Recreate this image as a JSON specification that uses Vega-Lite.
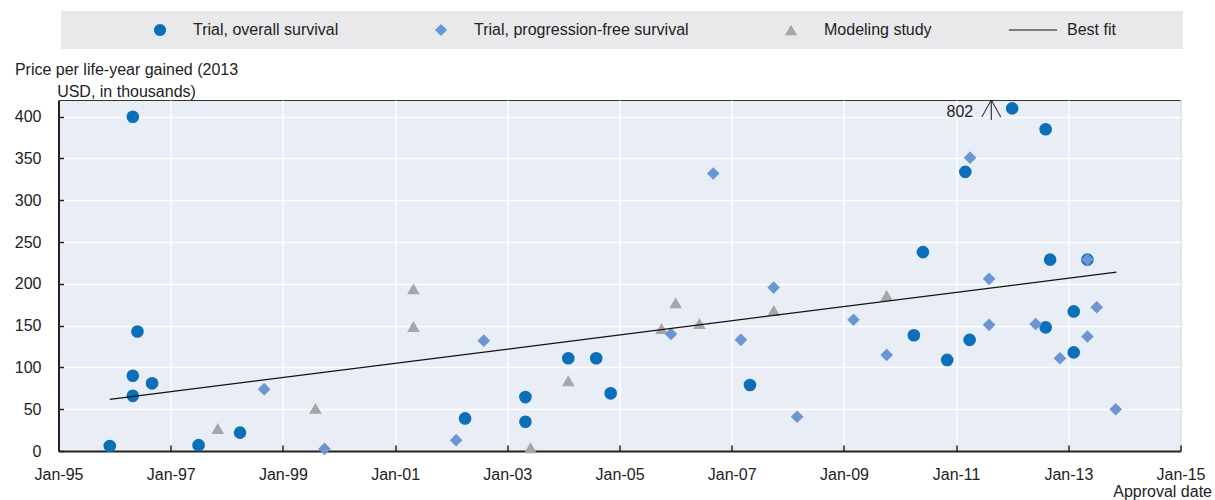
{
  "$schema": "https://vega.github.io/schema/vega-lite/v6.json",
  "width": 1122,
  "height": 351,
  "autosize": {"type": "none"},
  "padding": {"left": 58.5, "top": 100, "right": 34.5, "bottom": 49},
  "background": "white",
  "config": {
    "font": "Liberation Sans",
    "view": {"fill": "#E9EDF6", "stroke": "#333333", "strokeWidth": 1},
    "axis": {"labelFontSize": 16, "labelColor": "#222222", "titleFontSize": 16, "titleFontWeight": "normal", "titleColor": "#222222", "gridColor": "#FFFFFF", "gridWidth": 1.5, "gridOpacity": 1, "domainColor": "#222222", "domainWidth": 2, "tickColor": "#222222", "tickWidth": 1.5}
  },
  "datasets": {
    "points": [
      {"date": "1997-11-03", "value": 27, "series": "Modeling study"},
      {"date": "1999-08-01", "value": 51, "series": "Modeling study"},
      {"date": "2001-04-30", "value": 194, "series": "Modeling study"},
      {"date": "2001-04-30", "value": 149, "series": "Modeling study"},
      {"date": "2003-06-01", "value": 4, "series": "Modeling study"},
      {"date": "2004-02-02", "value": 84, "series": "Modeling study"},
      {"date": "2005-10-01", "value": 146.5, "series": "Modeling study"},
      {"date": "2006-01-01", "value": 177.5, "series": "Modeling study"},
      {"date": "2006-06-05", "value": 152.5, "series": "Modeling study"},
      {"date": "2007-10-02", "value": 168, "series": "Modeling study"},
      {"date": "2009-10-06", "value": 186, "series": "Modeling study"},
      {"date": "1995-12-01", "value": 6, "series": "Trial, overall survival"},
      {"date": "1996-04-29", "value": 400, "series": "Trial, overall survival"},
      {"date": "1996-04-29", "value": 90, "series": "Trial, overall survival"},
      {"date": "1996-04-29", "value": 66, "series": "Trial, overall survival"},
      {"date": "1996-05-29", "value": 143, "series": "Trial, overall survival"},
      {"date": "1996-09-01", "value": 81, "series": "Trial, overall survival"},
      {"date": "1997-07-01", "value": 7, "series": "Trial, overall survival"},
      {"date": "1998-03-28", "value": 22, "series": "Trial, overall survival"},
      {"date": "2002-04-01", "value": 39, "series": "Trial, overall survival"},
      {"date": "2003-04-29", "value": 64.5, "series": "Trial, overall survival"},
      {"date": "2003-04-29", "value": 35, "series": "Trial, overall survival"},
      {"date": "2004-02-02", "value": 111, "series": "Trial, overall survival"},
      {"date": "2004-08-02", "value": 111, "series": "Trial, overall survival"},
      {"date": "2004-11-04", "value": 69, "series": "Trial, overall survival"},
      {"date": "2007-04-30", "value": 79, "series": "Trial, overall survival"},
      {"date": "2010-05-30", "value": 238, "series": "Trial, overall survival"},
      {"date": "2010-04-01", "value": 138.5, "series": "Trial, overall survival"},
      {"date": "2010-11-04", "value": 109, "series": "Trial, overall survival"},
      {"date": "2011-03-30", "value": 133, "series": "Trial, overall survival"},
      {"date": "2011-03-02", "value": 334, "series": "Trial, overall survival"},
      {"date": "2012-01-01", "value": 410, "series": "Trial, overall survival"},
      {"date": "2012-08-06", "value": 385, "series": "Trial, overall survival"},
      {"date": "2012-08-06", "value": 148, "series": "Trial, overall survival"},
      {"date": "2012-09-04", "value": 229, "series": "Trial, overall survival"},
      {"date": "2013-02-05", "value": 167, "series": "Trial, overall survival"},
      {"date": "2013-02-05", "value": 118, "series": "Trial, overall survival"},
      {"date": "2013-05-05", "value": 229, "series": "Trial, overall survival"},
      {"date": "1998-09-01", "value": 74, "series": "Trial, progression-free survival"},
      {"date": "1999-09-29", "value": 2.5, "series": "Trial, progression-free survival"},
      {"date": "2002-02-02", "value": 13, "series": "Trial, progression-free survival"},
      {"date": "2002-08-01", "value": 132, "series": "Trial, progression-free survival"},
      {"date": "2005-12-02", "value": 140, "series": "Trial, progression-free survival"},
      {"date": "2006-09-03", "value": 332, "series": "Trial, progression-free survival"},
      {"date": "2007-03-02", "value": 133, "series": "Trial, progression-free survival"},
      {"date": "2007-10-01", "value": 195.5, "series": "Trial, progression-free survival"},
      {"date": "2008-03-02", "value": 41, "series": "Trial, progression-free survival"},
      {"date": "2009-03-04", "value": 157, "series": "Trial, progression-free survival"},
      {"date": "2009-10-06", "value": 115, "series": "Trial, progression-free survival"},
      {"date": "2011-04-02", "value": 351, "series": "Trial, progression-free survival"},
      {"date": "2011-08-04", "value": 206, "series": "Trial, progression-free survival"},
      {"date": "2011-08-04", "value": 151, "series": "Trial, progression-free survival"},
      {"date": "2012-06-02", "value": 152, "series": "Trial, progression-free survival"},
      {"date": "2012-11-07", "value": 111, "series": "Trial, progression-free survival"},
      {"date": "2013-05-05", "value": 229, "series": "Trial, progression-free survival"},
      {"date": "2013-07-05", "value": 172, "series": "Trial, progression-free survival"},
      {"date": "2013-05-05", "value": 137, "series": "Trial, progression-free survival"},
      {"date": "2013-11-05", "value": 50, "series": "Trial, progression-free survival"}
    ],
    "fit": [
      {"date": "1995-12-01", "value": 61.7, "series": "Best fit"},
      {"date": "2013-11-10", "value": 214, "series": "Best fit"}
    ],
    "offscale": [
      {"date": "2011-08-18", "value": 802, "label": "802"}
    ]
  },
  "encoding": {
    "x": {
      "field": "date", "type": "temporal",
      "scale": {"type": "utc", "domain": [{"year": 1995, "month": 1, "date": 1, "utc": true}, {"year": 2015, "month": 1, "date": 1, "utc": true}], "nice": false},
      "axis": {
        "values": [
          {"year": 1995, "month": 1, "date": 1, "utc": true}, {"year": 1997, "month": 1, "date": 1, "utc": true},
          {"year": 1999, "month": 1, "date": 1, "utc": true}, {"year": 2001, "month": 1, "date": 1, "utc": true},
          {"year": 2003, "month": 1, "date": 1, "utc": true}, {"year": 2005, "month": 1, "date": 1, "utc": true},
          {"year": 2007, "month": 1, "date": 1, "utc": true}, {"year": 2009, "month": 1, "date": 1, "utc": true},
          {"year": 2011, "month": 1, "date": 1, "utc": true}, {"year": 2013, "month": 1, "date": 1, "utc": true},
          {"year": 2015, "month": 1, "date": 1, "utc": true}
        ],
        "format": "%b-%y",
        "tickSize": -6,
        "labelPadding": 21,
        "labelFlush": false,
        "labelOverlap": false,
        "title": "Approval date",
        "titleX": 1153,
        "titleY": 45,
        "titleAlign": "right",
        "titleAnchor": null,
        "titleBaseline": "alphabetic"
      }
    },
    "y": {
      "field": "value", "type": "quantitative",
      "scale": {"domain": [0, 420], "nice": false, "clamp": true},
      "axis": {
        "values": [0, 50, 100, 150, 200, 250, 300, 350, 400],
        "tickSize": -5,
        "labelPadding": 22.5,
        "title": ["Price per life-year gained (2013", "USD, in thousands)"],
        "titleAngle": 0,
        "titleAlign": "center",
        "titleAnchor": null,
        "titleX": 67.5,
        "titleY": -26,
        "titleBaseline": "alphabetic",
        "titleLineHeight": 22
      }
    }
  },
  "layer": [
    {
      "data": {"name": "points"},
      "mark": {"type": "point", "filled": true, "opacity": 1, "size": 160},
      "encoding": {
        "color": {
          "field": "series", "type": "nominal",
          "scale": {
            "domain": ["Trial, overall survival", "Trial, progression-free survival", "Modeling study", "Best fit"],
            "range": ["#0B6FBA", "#6A97D3", "#A6A6A6", "#111111"]
          },
          "legend": {
            "title": null,
            "orient": "none",
            "direction": "horizontal",
            "legendX": 2.5,
            "legendY": -89,
            "fillColor": "#E9E9EB",
            "padding": 11,
            "labelFontSize": 16,
            "labelColor": "#222222",
            "symbolOffset": 80,
            "labelOffset": 25,
            "labelLimit": 400,
            "columnPadding": 14,
            "symbolSize": 150,
            "symbolStrokeWidth": 0
          }
        },
        "shape": {
          "field": "series", "type": "nominal",
          "scale": {
            "domain": ["Trial, overall survival", "Trial, progression-free survival", "Modeling study", "Best fit"],
            "range": ["circle", "diamond", "triangle-up", "M-4.1,-0.1L3.76,-0.1L3.76,0.1L-4.1,0.1ZM22.5,0"]
          }
        }
      }
    },
    {
      "data": {"name": "fit"},
      "mark": {"type": "line", "color": "#111111", "strokeWidth": 1.2}
    },
    {
      "data": {"name": "offscale"},
      "mark": {"type": "point", "shape": "M-1,1.8L0,0L1,1.8M0,0L0,2.1", "size": 361, "filled": false, "stroke": "#111111", "strokeWidth": 1, "opacity": 1}
    },
    {
      "data": {"name": "offscale"},
      "mark": {"type": "text", "align": "right", "baseline": "middle", "dx": -18, "dy": 12, "fontSize": 16, "color": "#222222"},
      "encoding": {"text": {"field": "label"}}
    }
  ]
}
